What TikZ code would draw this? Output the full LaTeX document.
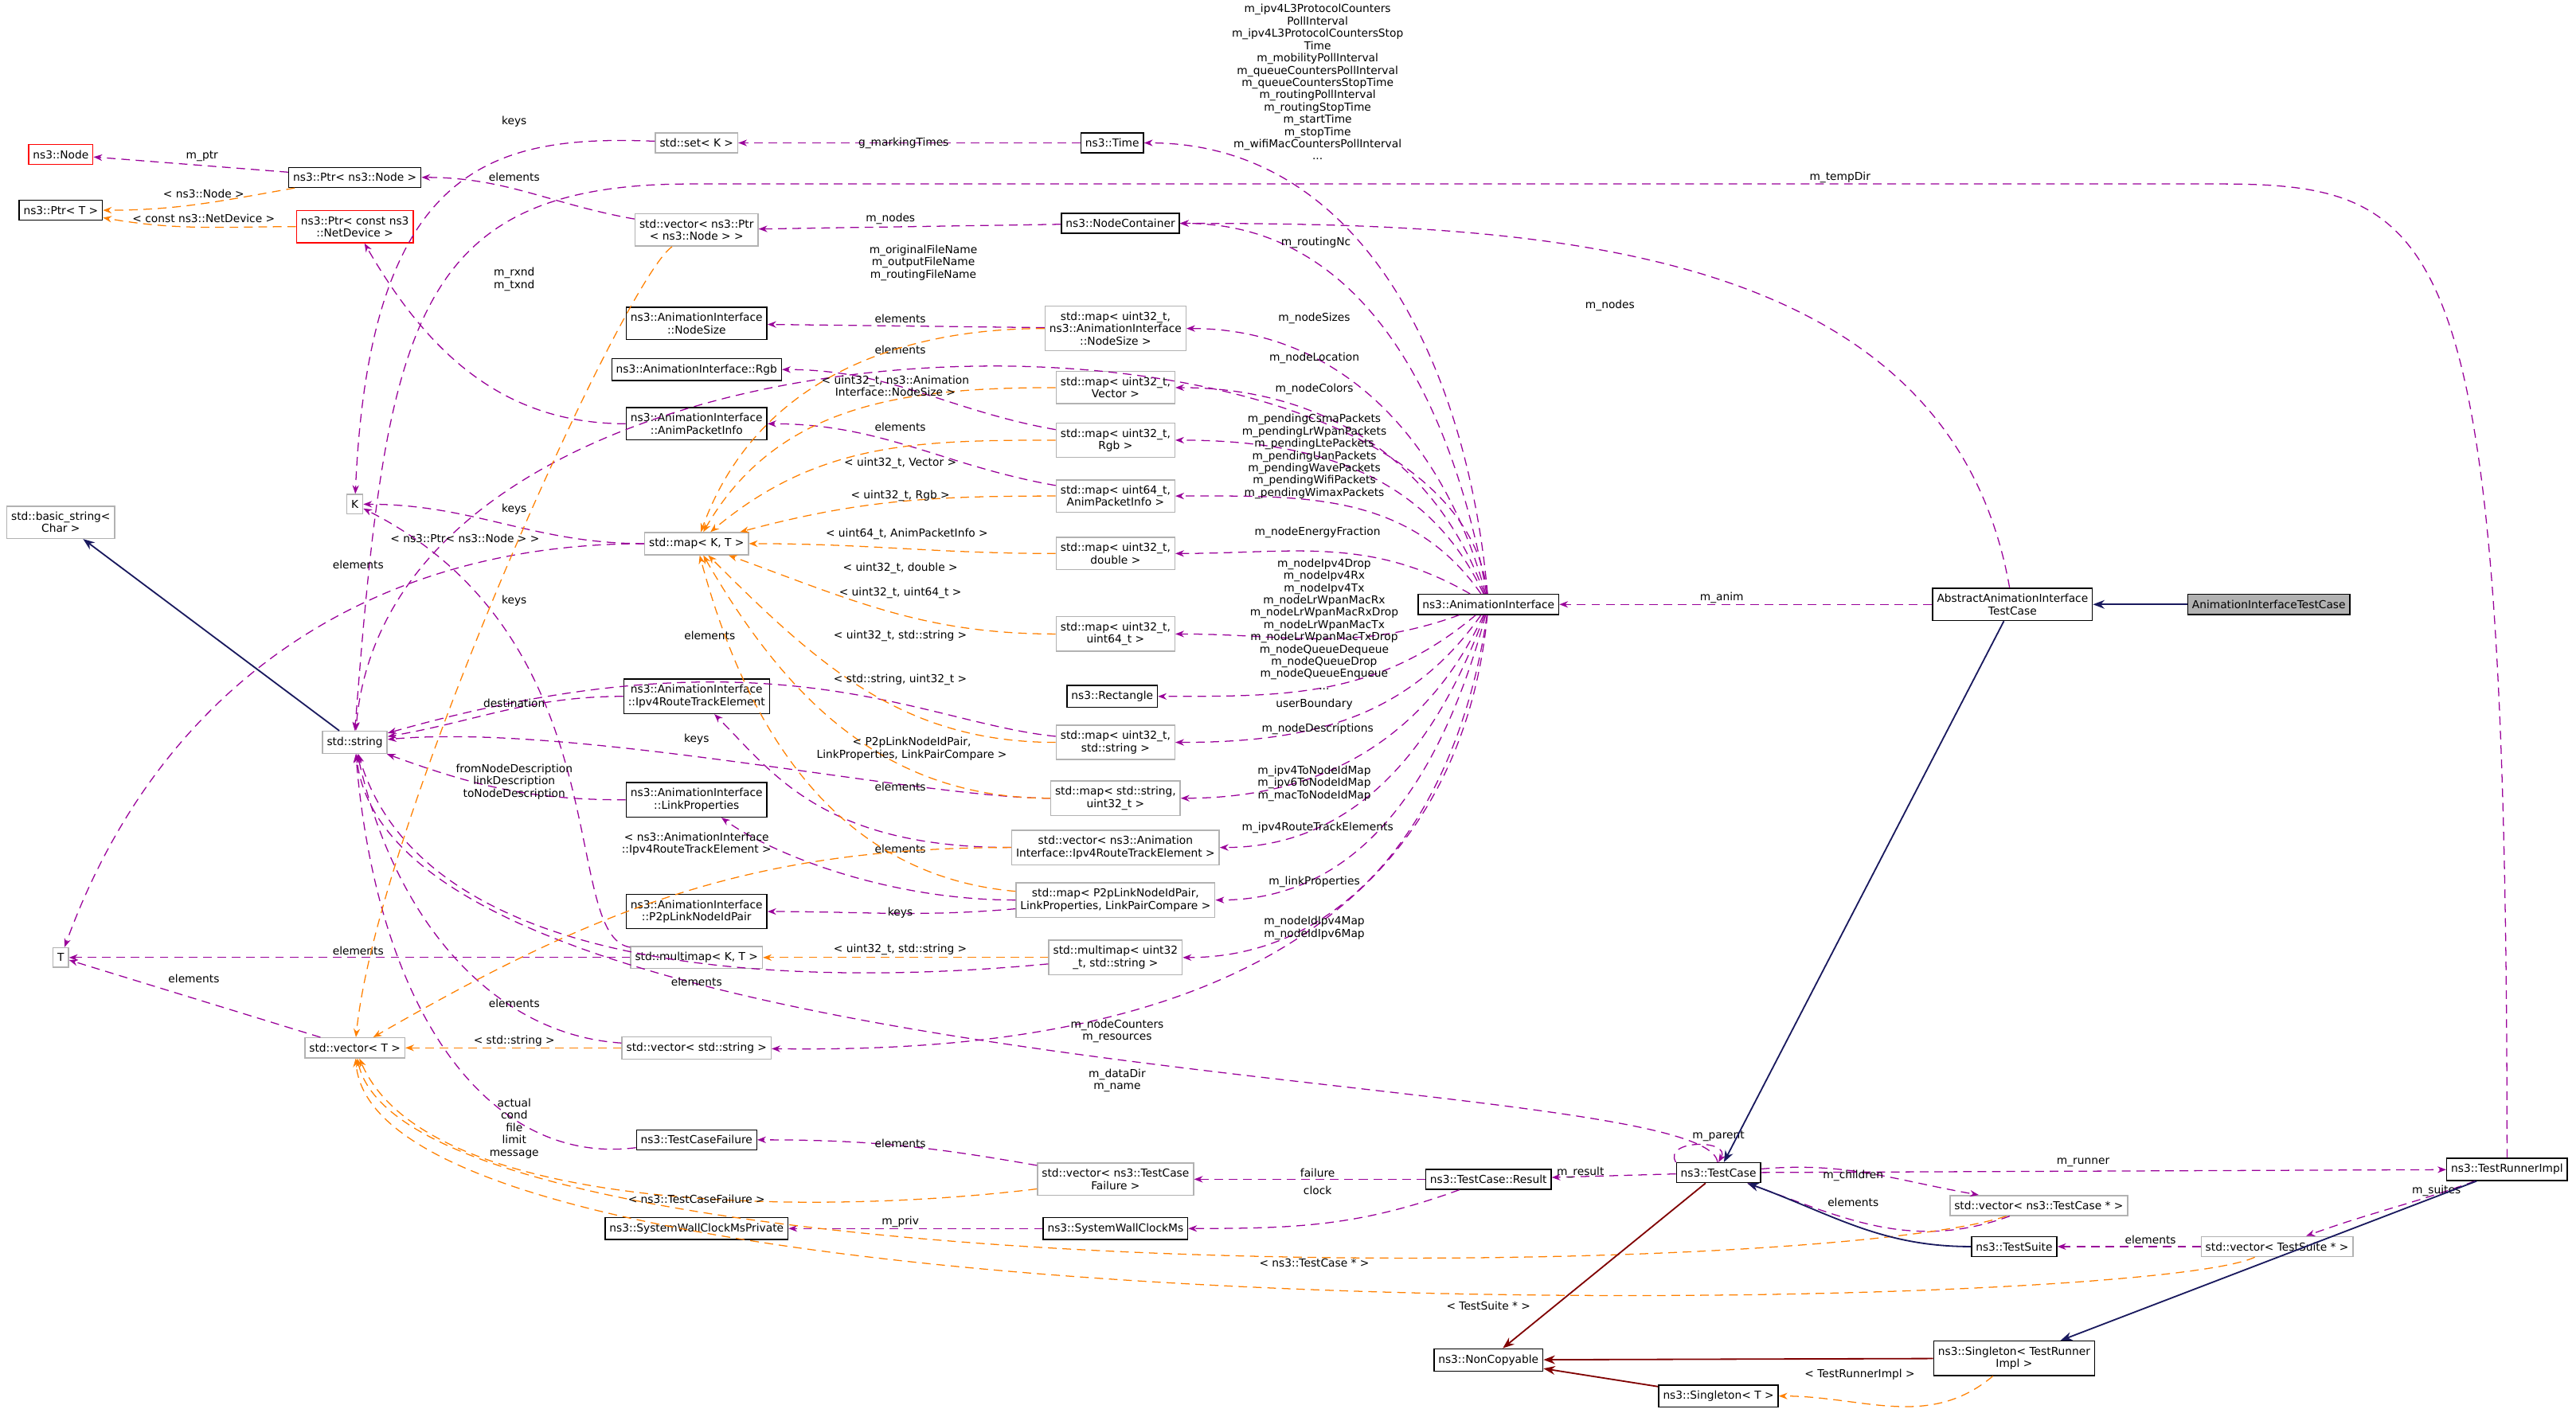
\documentclass[tikz,border=0pt]{standalone}
\usepackage{fontspec}
\setmainfont{DejaVu Sans}
\usetikzlibrary{arrows.meta}
\tikzset{
  cls/.style={draw=black,fill=white,inner xsep=1.5pt,inner ysep=2pt,align=center,font=\fontsize{3.8}{4.25}\selectfont},
  tpl/.style={cls,draw=gray!60},
  bad/.style={cls,draw=red},
  cur/.style={cls,fill=gray!60},
  use/.style={densely dashed,draw=violet!80!magenta,-{Stealth[length=3pt]},line width=0.35pt},
  inst/.style={densely dashed,draw=orange,-{Stealth[length=3pt]},line width=0.35pt},
  inh/.style={draw=blue!30!black!90,-{Stealth[length=4pt,open,fill=blue!30!black!90]},line width=0.5pt},
  priv/.style={draw=red!50!black,-{Stealth[length=4pt]},line width=0.5pt},
  lbl/.style={font=\fontsize{3.8}{4.25}\selectfont,align=center,inner sep=0.3pt}
}
\begin{document}
\begin{tikzpicture}[x=0.02cm,y=-0.02cm]
\useasboundingbox (0,0) rectangle (1568,860);
% classes
\node[bad] (node) at (37,94) {ns3::Node};
\node[cls] (ptrnode) at (216,108) {ns3::Ptr< ns3::Node >};
\node[cls] (ptrt) at (37,128) {ns3::Ptr< T >};
\node[bad] (ptrdev) at (216,138) {ns3::Ptr< const ns3\\::NetDevice >};
\node[tpl] (setk) at (424,87) {std::set< K >};
\node[cls] (time) at (677,87) {ns3::Time};
\node[tpl] (vecptrnode) at (424,140) {std::vector< ns3::Ptr\\< ns3::Node > >};
\node[cls] (container) at (682,136) {ns3::NodeContainer};
\node[cls] (nodesize) at (424,197) {ns3::AnimationInterface\\::NodeSize};
\node[tpl] (mapnodesize) at (679,200) {std::map< uint32\_t,\\ns3::AnimationInterface\\::NodeSize >};
\node[cls] (rgb) at (424,225) {ns3::AnimationInterface::Rgb};
\node[tpl] (mapvector) at (679,236) {std::map< uint32\_t,\\Vector >};
\node[cls] (pktinfo) at (424,258) {ns3::AnimationInterface\\::AnimPacketInfo};
\node[tpl] (maprgb) at (679,268) {std::map< uint32\_t,\\Rgb >};
\node[tpl] (mappkt) at (679,302) {std::map< uint64\_t,\\AnimPacketInfo >};
\node[tpl] (k) at (216,307) {K};
\node[tpl] (basic) at (37,318) {std::basic\_string<\\Char >};
\node[tpl] (mapkt) at (424,331) {std::map< K, T >};
\node[tpl] (mapdouble) at (679,337) {std::map< uint32\_t,\\double >};
\node[tpl] (mapu64) at (679,386) {std::map< uint32\_t,\\uint64\_t >};
\node[cls] (anim) at (906,368) {ns3::AnimationInterface};
\node[cls] (abstc) at (1225,368) {AbstractAnimationInterface\\TestCase};
\node[cur] (animtc) at (1381,368) {AnimationInterfaceTestCase};
\node[cls] (rect) at (677,424) {ns3::Rectangle};
\node[cls] (route) at (424,424) {ns3::AnimationInterface\\::Ipv4RouteTrackElement};
\node[tpl] (string) at (216,452) {std::string};
\node[tpl] (mapstr) at (679,452) {std::map< uint32\_t,\\std::string >};
\node[cls] (linkprop) at (424,487) {ns3::AnimationInterface\\::LinkProperties};
\node[tpl] (mapstru) at (679,486) {std::map< std::string,\\uint32\_t >};
\node[tpl] (vecroute) at (679,516) {std::vector< ns3::Animation\\Interface::Ipv4RouteTrackElement >};
\node[tpl] (mapp2p) at (679,548) {std::map< P2pLinkNodeIdPair,\\LinkProperties, LinkPairCompare >};
\node[cls] (p2p) at (424,555) {ns3::AnimationInterface\\::P2pLinkNodeIdPair};
\node[tpl] (t) at (37,583) {T};
\node[tpl] (mmkt) at (424,583) {std::multimap< K, T >};
\node[tpl] (mmu) at (679,583) {std::multimap< uint32\\\_t, std::string >};
\node[tpl] (vect) at (216,638) {std::vector< T >};
\node[tpl] (vecstr) at (424,638) {std::vector< std::string >};
\node[cls] (failure) at (424,694) {ns3::TestCaseFailure};
\node[tpl] (vecfail) at (679,718) {std::vector< ns3::TestCase\\Failure >};
\node[cls] (result) at (906,718) {ns3::TestCase::Result};
\node[cls] (testcase) at (1046,714) {ns3::TestCase};
\node[cls] (runner) at (1526,712) {ns3::TestRunnerImpl};
\node[tpl] (vectc) at (1241,734) {std::vector< ns3::TestCase * >};
\node[cls] (wallpriv) at (424,748) {ns3::SystemWallClockMsPrivate};
\node[cls] (wall) at (679,748) {ns3::SystemWallClockMs};
\node[cls] (suite) at (1226,759) {ns3::TestSuite};
\node[tpl] (vects) at (1386,759) {std::vector< TestSuite * >};
\node[cls] (noncopy) at (906,828) {ns3::NonCopyable};
\node[cls] (singrun) at (1226,827) {ns3::Singleton< TestRunner\\Impl >};
\node[cls] (singt) at (1046,850) {ns3::Singleton< T >};
% usage
\draw[use] (ptrnode) -- (node);
\draw[use] (setk) .. controls (300,82) and (225,100) .. (k);
\draw[use] (time) -- (setk);
\draw[use] (vecptrnode) to[out=170,in=0] (ptrnode);
\draw[use] (container) -- (vecptrnode);
\draw[use] (anim) to[out=95,in=0] (time);
\draw[use] (anim) to[out=100,in=0] (container);
\draw[use] (anim) .. controls (885,165) and (240,165) .. (string);
\draw[use] (anim) to[out=105,in=0] (mapnodesize);
\draw[use] (mapnodesize) -- (nodesize);
\draw[use] (anim) to[out=110,in=0] (mapvector);
\draw[use] (anim) to[out=115,in=0] (maprgb);
\draw[use] (maprgb) to[out=170,in=0] (rgb);
\draw[use] (anim) to[out=125,in=0] (mappkt);
\draw[use] (mappkt) to[out=170,in=0] (pktinfo);
\draw[use] (pktinfo) to[out=180,in=-60] (ptrdev);
\draw[use] (mapkt) to[out=180,in=0] (k);
\draw[use] (mapkt) to[out=180,in=70] (t);
\draw[use] (anim) to[out=150,in=0] (mapdouble);
\draw[use] (anim) to[out=200,in=0] (mapu64);
\draw[use] (anim) to[out=220,in=0] (rect);
\draw[use] (anim) to[out=235,in=0] (mapstr);
\draw[use] (mapstr) .. controls (560,440) and (470,380) .. (string);
\draw[use] (anim) to[out=245,in=0] (mapstru);
\draw[use] (mapstru) .. controls (560,486) and (350,440) .. (string);
\draw[use] (anim) to[out=250,in=0] (vecroute);
\draw[use] (vecroute) .. controls (500,516) and (470,470) .. (route);
\draw[use] (route) to[out=180,in=10] (string);
\draw[use] (anim) to[out=255,in=0] (mapp2p);
\draw[use] (mapp2p) .. controls (540,548) and (470,520) .. (linkprop);
\draw[use] (mapp2p) to[out=185,in=0] (p2p);
\draw[use] (linkprop) to[out=180,in=-20] (string);
\draw[use] (anim) to[out=262,in=0] (mmu);
\draw[use] (mmu) .. controls (500,600) and (260,600) .. (string);
\draw[use] (mmkt) -- (t);
\draw[use] (mmkt) .. controls (340,570) and (380,390) .. (k);
\draw[use] (anim) .. controls (880,630) and (600,640) .. (vecstr);
\draw[use] (vecstr) .. controls (300,630) and (240,560) .. (string);
\draw[use] (vect) -- (t);
\draw[use] (abstc) to[out=100,in=0] (container);
\draw[use] (abstc) -- (anim);
\draw[use] (runner.north) .. controls (1526,140) and (1490,112) .. (1350,112)
  -- (420,112) .. controls (250,112) and (235,200) .. (string.north);
\draw[use] (testcase) .. controls (1040,650) and (240,665) .. (string);
\draw[use] (testcase.north west) .. controls +(-8,-14) and +(8,-14) .. (testcase.north);
\draw[use] (testcase) -- (result);
\draw[use] (testcase) -- (runner);
\draw[use] (testcase) to[out=5,in=170] (vectc);
\draw[use] (vectc) to[out=200,in=-20] (testcase);
\draw[use] (result) to[out=180,in=0] (vecfail);
\draw[use] (result) to[out=200,in=0] (wall);
\draw[use] (vecfail) to[out=170,in=0] (failure);
\draw[use] (failure) .. controls (300,710) and (230,620) .. (string);
\draw[use] (wall) -- (wallpriv);
\draw[use] (runner) to[out=200,in=20] (vects);
\draw[use] (vects) -- (suite);
% labels
\node[lbl] (lptr) at (123,95) {m\_ptr};
\node[lbl] (lsetkeys) at (313,74) {keys};
\node[lbl] (lmarking) at (550,87) {g\_markingTimes};
\node[lbl] (lptrel) at (313,108) {elements};
\node[lbl] (lnodes) at (542,133) {m\_nodes};
\node[lbl] (ltimes) at (802,50) {m\_ipv4L3ProtocolCounters\\PollInterval\\m\_ipv4L3ProtocolCountersStop\\Time\\m\_mobilityPollInterval\\m\_queueCountersPollInterval\\m\_queueCountersStopTime\\m\_routingPollInterval\\m\_routingStopTime\\m\_startTime\\m\_stopTime\\m\_wifiMacCountersPollInterval\\...};
\node[lbl] (lroutingnc) at (801,148) {m\_routingNc};
\node[lbl] (lfiles) at (562,160) {m\_originalFileName\\m\_outputFileName\\m\_routingFileName};
\node[lbl] (labsnodes) at (980,186) {m\_nodes};
\node[lbl] (ltempdir) at (1120,108) {m\_tempDir};
\node[lbl] (lnodesizes) at (800,194) {m\_nodeSizes};
\node[lbl] (lsizeel) at (548,194) {elements};
\node[lbl] (lrgbel) at (548,213) {elements};
\node[lbl] (llocation) at (800,218) {m\_nodeLocation};
\node[lbl] (lcolors) at (800,237) {m\_nodeColors};
\node[lbl] (lpktel) at (548,260) {elements};
\node[lbl] (lpending) at (800,278) {m\_pendingCsmaPackets\\m\_pendingLrWpanPackets\\m\_pendingLtePackets\\m\_pendingUanPackets\\m\_pendingWavePackets\\m\_pendingWifiPackets\\m\_pendingWimaxPackets};
\node[lbl] (lrxnd) at (313,170) {m\_rxnd\\m\_txnd};
\node[lbl] (lkkeys) at (313,310) {keys};
\node[lbl] (lktel) at (218,344) {elements};
\node[lbl] (lenergy) at (802,324) {m\_nodeEnergyFraction};
\node[lbl] (ldrops) at (806,380) {m\_nodeIpv4Drop\\m\_nodeIpv4Rx\\m\_nodeIpv4Tx\\m\_nodeLrWpanMacRx\\m\_nodeLrWpanMacRxDrop\\m\_nodeLrWpanMacTx\\m\_nodeLrWpanMacTxDrop\\m\_nodeQueueDequeue\\m\_nodeQueueDrop\\m\_nodeQueueEnqueue\\...};
\node[lbl] (lboundary) at (800,429) {userBoundary};
\node[lbl] (ldescr) at (802,444) {m\_nodeDescriptions};
\node[lbl] (lidmaps) at (800,477) {m\_ipv4ToNodeIdMap\\m\_ipv6ToNodeIdMap\\m\_macToNodeIdMap};
\node[lbl] (ltrack) at (802,504) {m\_ipv4RouteTrackElements};
\node[lbl] (llinks) at (800,537) {m\_linkProperties};
\node[lbl] (lipmaps) at (800,565) {m\_nodeIdIpv4Map\\m\_nodeIdIpv6Map};
\node[lbl] (lcounters) at (680,628) {m\_nodeCounters\\m\_resources};
\node[lbl] (ldatadir) at (680,658) {m\_dataDir\\m\_name};
\node[lbl] (lstrel) at (432,387) {elements};
\node[lbl] (lmmkeys) at (313,366) {keys};
\node[lbl] (ldest) at (313,428) {destination};
\node[lbl] (lstrkeys) at (424,450) {keys};
\node[lbl] (lrouteel) at (548,479) {elements};
\node[lbl] (llinkel) at (548,517) {elements};
\node[lbl] (lp2pkeys) at (548,556) {keys};
\node[lbl] (ldescs) at (313,476) {fromNodeDescription\\linkDescription\\toNodeDescription};
\node[lbl] (lmmuel) at (424,598) {elements};
\node[lbl] (lmmktel) at (218,579) {elements};
\node[lbl] (lvecstrel) at (313,611) {elements};
\node[lbl] (lvectel) at (118,596) {elements};
\node[lbl] (lfailfields) at (313,687) {actual\\cond\\file\\limit\\message};
\node[lbl] (lfailel) at (548,696) {elements};
\node[lbl] (lfailure) at (802,714) {failure};
\node[lbl] (lclock) at (802,725) {clock};
\node[lbl] (lpriv) at (548,744) {m\_priv};
\node[lbl] (lresult) at (962,714) {m\_result};
\node[lbl] (lparent) at (1046,692) {m\_parent};
\node[lbl] (lchildren) at (1128,716) {m\_children};
\node[lbl] (ltcel) at (1128,732) {elements};
\node[lbl] (lrunner) at (1268,708) {m\_runner};
\node[lbl] (lsuites) at (1483,725) {m\_suites};
\node[lbl] (ltsel) at (1309,755) {elements};
\node[lbl] (lanim) at (1048,364) {m\_anim};
% instances
\draw[inst] (ptrnode) to[out=190,in=0] (ptrt);
\draw[inst] (ptrdev) to[out=180,in=-10] (ptrt);
\draw[inst] (vecptrnode) .. controls (380,170) and (230,500) .. (vect);
\draw[inst] (mapnodesize) to[out=180,in=70] (mapkt);
\draw[inst] (mapvector) to[out=180,in=60] (mapkt);
\draw[inst] (maprgb) to[out=180,in=40] (mapkt);
\draw[inst] (mappkt) to[out=180,in=15] (mapkt);
\draw[inst] (mapdouble) to[out=180,in=0] (mapkt);
\draw[inst] (mapu64) to[out=180,in=-20] (mapkt);
\draw[inst] (mapstr) to[out=180,in=-45] (mapkt);
\draw[inst] (mapstru) to[out=180,in=-60] (mapkt);
\draw[inst] (mapp2p) to[out=175,in=-75] (mapkt);
\draw[inst] (vecroute) to[out=180,in=30] (vect);
\draw[inst] (mmu) -- (mmkt);
\draw[inst] (vecstr) -- (vect);
\draw[inst] (vecfail) .. controls (500,740) and (260,740) .. (vect);
\draw[inst] (vectc) .. controls (1100,780) and (250,790) .. (vect);
\draw[inst] (vects) .. controls (1300,800) and (230,820) .. (vect);
\draw[inst] (singrun) to[out=220,in=0] (singt);
\node[lbl] (lnodeinst) at (124,118) {< ns3::Node >};
\node[lbl] (ldevinst) at (124,133) {< const ns3::NetDevice >};
\node[lbl] (lptrinst) at (283,328) {< ns3::Ptr< ns3::Node > >};
\node[lbl] (lsizeinst) at (545,235) {< uint32\_t, ns3::Animation\\Interface::NodeSize >};
\node[lbl] (lvecinst) at (548,282) {< uint32\_t, Vector >};
\node[lbl] (lrgbinst) at (548,302) {< uint32\_t, Rgb >};
\node[lbl] (lpktinst) at (552,325) {< uint64\_t, AnimPacketInfo >};
\node[lbl] (ldblinst) at (548,346) {< uint32\_t, double >};
\node[lbl] (lu64inst) at (548,361) {< uint32\_t, uint64\_t >};
\node[lbl] (lstrinst) at (548,387) {< uint32\_t, std::string >};
\node[lbl] (lstruinst) at (548,414) {< std::string, uint32\_t >};
\node[lbl] (lp2pinst) at (555,456) {< P2pLinkNodeIdPair,\\LinkProperties, LinkPairCompare >};
\node[lbl] (lrouteinst) at (424,514) {< ns3::AnimationInterface\\::Ipv4RouteTrackElement >};
\node[lbl] (lmmuinst) at (548,578) {< uint32\_t, std::string >};
\node[lbl] (lvecstrinst) at (313,634) {< std::string >};
\node[lbl] (lfailinst) at (424,730) {< ns3::TestCaseFailure >};
\node[lbl] (ltcinst) at (800,769) {< ns3::TestCase * >};
\node[lbl] (ltsinst) at (906,795) {< TestSuite * >};
\node[lbl] (lrunnerinst) at (1132,837) {< TestRunnerImpl >};
% inheritance
\draw[inh] (animtc) -- (abstc);
\draw[inh] (abstc) -- (testcase);
\draw[inh] (suite) to[out=180,in=-20] (testcase);
\draw[inh] (runner) -- (singrun);
\draw[inh] (string) -- (basic);
\draw[priv] (testcase) -- (noncopy);
\draw[priv] (singrun) -- (noncopy);
\draw[priv] (singt) -- (noncopy);
\end{tikzpicture}
\end{document}
